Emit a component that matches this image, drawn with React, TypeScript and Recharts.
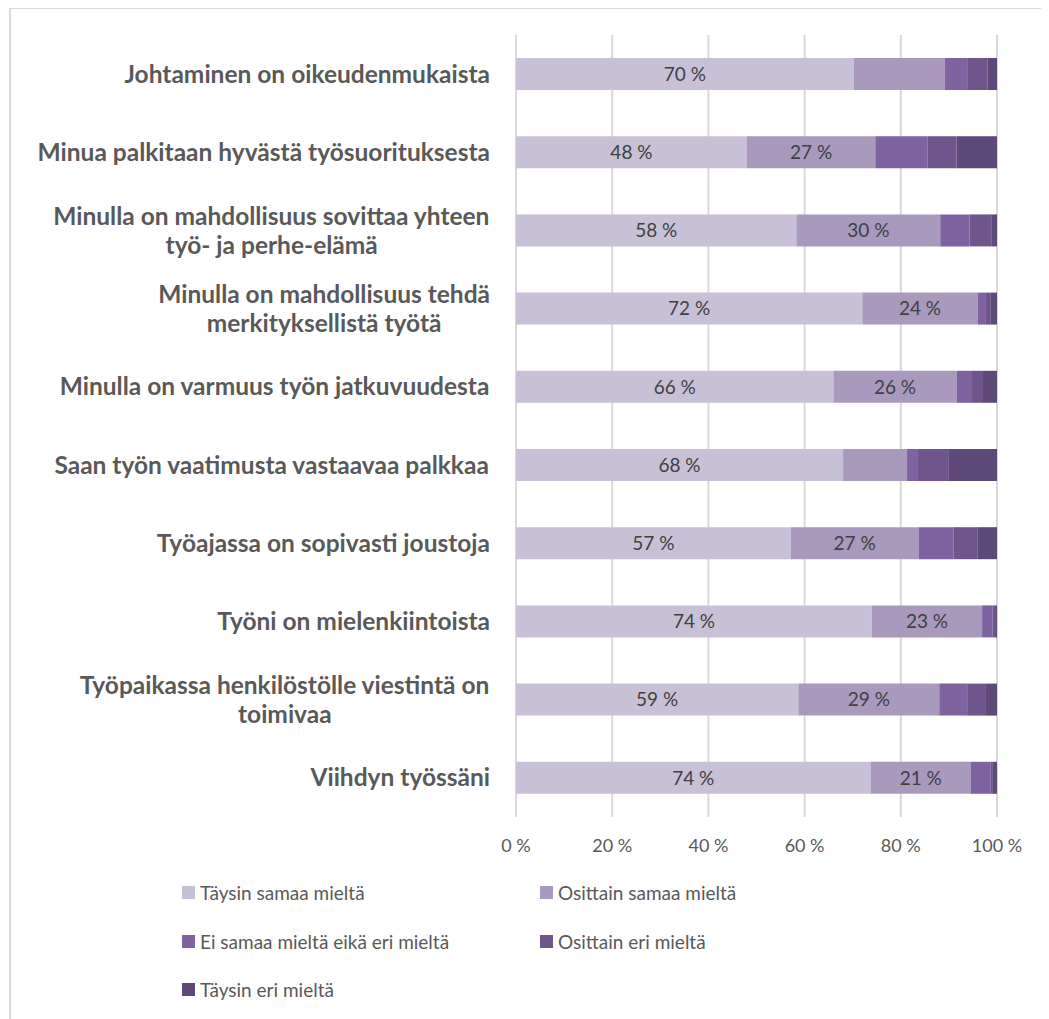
import React from 'react';
import { BarChart, Bar, XAxis, YAxis, CartesianGrid, LabelList, Legend } from 'recharts';

const categories: string[] = [
  'Johtaminen on oikeudenmukaista',
  'Minua palkitaan hyvästä työsuorituksesta',
  'Minulla on mahdollisuus sovittaa yhteen\ntyö- ja perhe-elämä',
  'Minulla on mahdollisuus tehdä\nmerkityksellistä työtä',
  'Minulla on varmuus työn jatkuvuudesta',
  'Saan työn vaatimusta vastaavaa palkkaa',
  'Työajassa on sopivasti joustoja',
  'Työni on mielenkiintoista',
  'Työpaikassa henkilöstölle viestintä on\ntoimivaa',
  'Viihdyn työssäni',
];

const taysinSamaa: number[] = [70.2, 48.0, 58.3, 72.0, 66.0, 68.0, 57.1, 74.0, 58.7, 73.7];
const osittainSamaa: number[] = [18.9, 26.7, 29.9, 24.0, 25.6, 13.3, 26.6, 22.9, 29.3, 20.9];
const eiSamaaEiEri: number[] = [4.7, 10.9, 6.1, 1.7, 3.2, 2.1, 7.3, 2.2, 5.8, 4.1];
const osittainEri: number[] = [4.2, 6.0, 4.5, 0.9, 2.1, 6.6, 5.0, 0.5, 3.9, 0.3];
const taysinEri: number[] = [2.0, 8.4, 1.2, 1.4, 3.1, 10.0, 4.0, 0.4, 2.3, 1.0];

const seriesNames: string[] = [
  'Täysin samaa mieltä',
  'Osittain samaa mieltä',
  'Ei samaa mieltä eikä eri mieltä',
  'Osittain eri mieltä',
  'Täysin eri mieltä',
];
const seriesColors: string[] = ['#C8C0D6', '#A899BD', '#7F62A0', '#6E568C', '#5E4A78'];
const xTicks: number[] = [0, 20, 40, 60, 80, 100];

const seriesValues = [taysinSamaa, osittainSamaa, eiSamaaEiEri, osittainEri, taysinEri];
const keys = ['s0', 's1', 's2', 's3', 's4'];

const data = categories.map((c, i) => {
  const row: Record<string, string | number> = { name: c };
  seriesValues.forEach((arr, k) => {
    row[keys[k]] = arr[i];
  });
  return row;
});

const LABEL_FONT = '700 24.5px Lato';
let canvasCtx: CanvasRenderingContext2D | null = null;
const measure = (t: string): number => {
  if (!canvasCtx) {
    const c = document.createElement('canvas');
    canvasCtx = c.getContext('2d');
  }
  if (!canvasCtx) return t.length * 12;
  canvasCtx.font = LABEL_FONT;
  return canvasCtx.measureText(t).width;
};

const CategoryTick = (props: any) => {
  const { x, y, payload } = props;
  const lines = String(payload.value).split('\n');
  const widths = lines.map((l) => measure(l));
  const maxW = Math.max(...widths);
  const left = x - maxW;
  const lineH = 29;
  const y0 = y - ((lines.length - 1) * lineH) / 2;
  return (
    <g>
      {lines.map((l, i) => (
        <text
          key={i}
          x={left + (maxW - widths[i]) / 2}
          y={y0 + i * lineH}
          dy="0.35em"
          textAnchor="start"
          fill="#595959"
          style={{ font: LABEL_FONT, textAnchor: 'start' }}
        >
          {l}
        </text>
      ))}
    </g>
  );
};

const renderLegend = (props: any) => {
  const payload = ([...(props.payload || [])] as any[]).sort(
    (a, b) => seriesNames.indexOf(a.value) - seriesNames.indexOf(b.value)
  );
  const colLeft = [0, 358];
  const rowTop = [0, 49, 97];
  return (
    <div style={{ position: 'relative', width: 700, height: 120 }}>
      {payload.map((p, i) => {
        const col = i % 2;
        const row = Math.floor(i / 2);
        return (
          <div
            key={i}
            style={{
              position: 'absolute',
              left: colLeft[col],
              top: rowTop[row],
              display: 'flex',
              alignItems: 'center',
              height: 24,
              whiteSpace: 'nowrap',
            }}
          >
            <span
              style={{
                display: 'inline-block',
                width: 13,
                height: 13,
                background: p.color,
                marginRight: 5,
              }}
            />
            <span style={{ font: '400 19px Lato', color: '#595959' }}>{p.value}</span>
          </div>
        );
      })}
    </div>
  );
};

export default function App() {
  return (
    <div style={{ position: 'relative', width: 1041, height: 1011, overflow: 'hidden', background: '#fff' }}>
      <div
        style={{
          position: 'absolute',
          left: 1,
          top: -1,
          width: 1200,
          height: 1200,
          border: '2px solid #d9d9d9',
          boxSizing: 'border-box',
        }}
      />
      <BarChart
        width={1041}
        height={1011}
        data={data}
        layout="vertical"
        margin={{ top: 27, right: 52, bottom: 172, left: 28 }}
        barSize={32}
        style={{ position: 'absolute', left: 0, top: 0 }}
      >
        <CartesianGrid horizontal={false} stroke="#d9d9d9" strokeWidth={2} />
        <XAxis
          type="number"
          domain={[0, 100]}
          ticks={xTicks}
          tickFormatter={(v: number) => `${v}\u00A0%`}
          axisLine={false}
          tickLine={false}
          tickSize={0}
          tickMargin={22}
          height={30}
          tick={{ fill: '#595959', fontSize: 18, fontFamily: 'Lato' }}
          interval={0}
        />
        <YAxis
          type="category"
          dataKey="name"
          width={480}
          axisLine={false}
          tickLine={false}
          tickSize={0}
          tickMargin={26}
          tick={<CategoryTick />}
          interval={0}
        />
        <Legend
          layout="horizontal"
          verticalAlign="middle"
          align="center"
          wrapperStyle={{ position: 'absolute', left: 174, top: 872, width: 700, height: 120 }}
          content={renderLegend}
        />
        {keys.map((k, i) => (
          <Bar
            key={k}
            dataKey={k}
            name={seriesNames[i]}
            stackId="a"
            fill={seriesColors[i]}
            isAnimationActive={false}
          >
            <LabelList
              dataKey={k}
              position="center"
              fill="#404040"
              style={{ fontSize: 19, fontFamily: 'Lato' }}
              formatter={(v: any) => (Math.round(Number(v)) >= 20 ? `${Math.round(Number(v))}\u00A0%` : '')}
            />
          </Bar>
        ))}
      </BarChart>
    </div>
  );
}
